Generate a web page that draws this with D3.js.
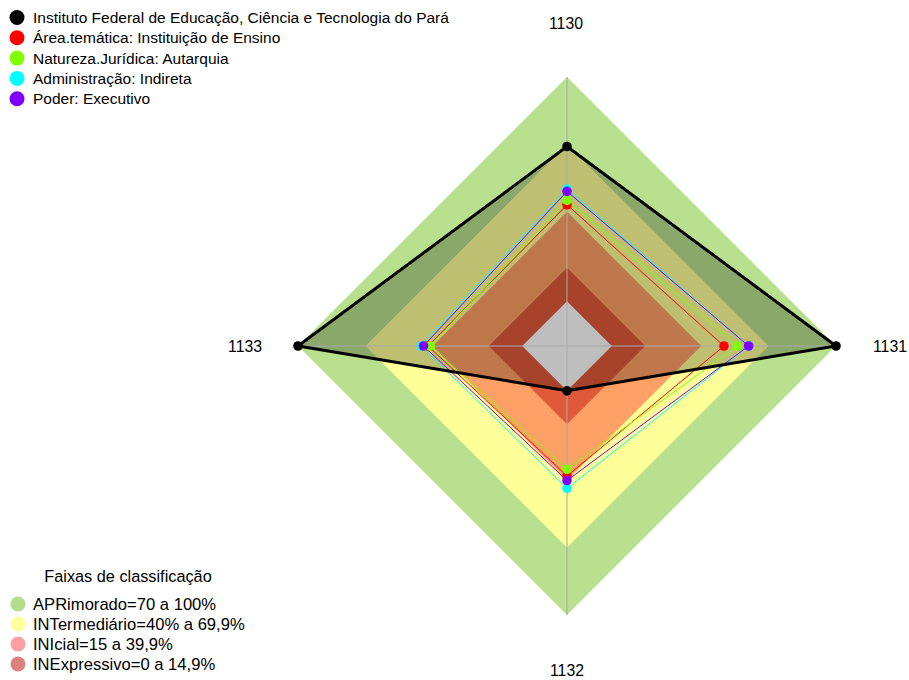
<!DOCTYPE html>
<html>
<head>
<meta charset="utf-8">
<script src="https://cdn.jsdelivr.net/npm/d3@7"></script>
<style>
  body { margin: 0; background: #fff; }
  svg { display: block; font-family: "Liberation Sans", Arial, sans-serif; }
</style>
</head>
<body>
<svg id="chart"></svg>
<script>
'use strict';

// eixos do radar (sentido horário a partir do topo)
var axes = ['1130', '1131', '1132', '1133'];

// séries (fração 0..1)
var seriesNames = [
    'Instituto Federal de Educação, Ciência e Tecnologia do Pará',
    'Área.temática: Instituição de Ensino',
    'Natureza.Jurídica: Autarquia',
    'Administração: Indireta',
    'Poder: Executivo'
];
var ifpa       = [0.69, 1.00, 0.00, 1.00];
var areaTemat  = [0.43, 0.50, 0.38, 0.42];
var natureza   = [0.45, 0.56, 0.35, 0.41];
var administr  = [0.50, 0.61, 0.435, 0.45];
var poder      = [0.49, 0.61, 0.40, 0.44];
var seriesValues = [ifpa, areaTemat, natureza, administr, poder];

// faixas de classificação
var bandNames = [
    'APRimorado=70 a 100%',
    'INTermediário=40% a 69,9%',
    'INIcial=15 a 39,9%',
    'INExpressivo=0 a 14,9%'
];
var bandUpper = [1.0, 0.699, 0.399, 0.149];

var seriesColors = ['#000000', '#ff0000', '#80ff00', '#00ffff', '#8000ff'];
var bandFill = ['#b8e08e', '#ffff99', '#ffa066', '#e05a3a'];
var bandLegend = ['#b5dc8b', '#ffff9c', '#ff9f9f', '#dc8080'];

var svgWidth = 909,
    svgHeight = 680;
var cx = 567, cy = 346;
var R = 269;

var svg = d3.select('#chart')
    .attr('width', svgWidth)
    .attr('height', svgHeight);

var g = svg.append('g')
    .attr('transform', 'translate(' + cx + ',' + cy + ')');

// centro deslocado (como no fmsb): 0 fica em R/6
var r = d3.scaleLinear().domain([0, 1]).range([R / 6, R]);
var angle = d3.scalePoint().domain(axes).range([0, 2 * Math.PI * 3 / 4]);

var radial = d3.lineRadial()
    .angle(function (d, i) { return angle(axes[i]) })
    .radius(function (d) { return r(d) })
    .curve(d3.curveLinearClosed);

function diamond(v) {
    return axes.map(function () { return v });
}

// faixas
g.selectAll('.band')
    .data(bandUpper)
    .enter().append('path')
    .attr('class', 'band')
    .attr('fill', function (d, i) { return bandFill[i] })
    .attr('d', function (d) { return radial(diamond(d)) });

// preenchimento da série principal
g.append('path')
    .datum(ifpa)
    .attr('fill', 'rgba(0,0,0,0.25)')
    .attr('d', radial);

// centro cinza
g.append('path')
    .attr('fill', '#bebebe')
    .attr('d', radial(diamond(0)));

// eixos
g.selectAll('.axis-line')
    .data(axes)
    .enter().append('line')
    .attr('class', 'axis-line')
    .attr('x1', 0).attr('y1', 0)
    .attr('x2', function (d) { return r(1) * Math.sin(angle(d)) })
    .attr('y2', function (d) { return -r(1) * Math.cos(angle(d)) })
    .attr('stroke', '#a8a8a8')
    .attr('stroke-width', 1);

function px(v, i) { return r(v) * Math.sin(angle(axes[i])) }
function py(v, i) { return -r(v) * Math.cos(angle(axes[i])) }

// linhas das séries (principal por último)
var order = [1, 2, 3, 4, 0];
order.forEach(function (s) {
    g.append('path')
        .datum(seriesValues[s])
        .attr('fill', 'none')
        .attr('stroke', seriesColors[s])
        .attr('stroke-width', s === 0 ? 3 : 1)
        .attr('stroke-linejoin', 'round')
        .attr('d', radial);
});

[0, 1, 2, 3, 4].forEach(function (s) {
    g.selectAll('.pt' + s)
        .data(seriesValues[s])
        .enter().append('circle')
        .attr('cx', function (d, i) { return px(d, i) })
        .attr('cy', function (d, i) { return py(d, i) })
        .attr('r', 4.8)
        .attr('fill', seriesColors[s]);
});

// rótulos dos eixos
var labelPos = {
    '1130': [566, 29, 'middle'],
    '1131': [873, 352, 'start'],
    '1132': [567, 676, 'middle'],
    '1133': [262, 352, 'end']
};
axes.forEach(function (a) {
    svg.append('text')
        .attr('x', labelPos[a][0])
        .attr('y', labelPos[a][1])
        .attr('text-anchor', labelPos[a][2])
        .attr('font-size', 15.8)
        .attr('fill', '#000')
        .text(a);
});

// legenda das séries
var leg = svg.append('g');
seriesNames.forEach(function (name, i) {
    var y = 17.5 + i * 20.3;
    leg.append('circle')
        .attr('cx', 17).attr('cy', y).attr('r', 7.5)
        .attr('fill', seriesColors[i]);
    leg.append('text')
        .attr('x', 33).attr('y', y + 5.5)
        .attr('font-size', 15.5)
        .text(name);
});

// legenda das faixas
var leg2 = svg.append('g');
leg2.append('text')
    .attr('x', 128).attr('y', 582)
    .attr('text-anchor', 'middle')
    .attr('font-size', 16.3)
    .text('Faixas de classificação');
bandNames.forEach(function (name, i) {
    var y = 604 + i * 20;
    leg2.append('circle')
        .attr('cx', 18).attr('cy', y).attr('r', 7.5)
        .attr('fill', bandLegend[i]);
    leg2.append('text')
        .attr('x', 33).attr('y', y + 6)
        .attr('font-size', 16.6)
        .text(name);
});
</script>
</body>
</html>
